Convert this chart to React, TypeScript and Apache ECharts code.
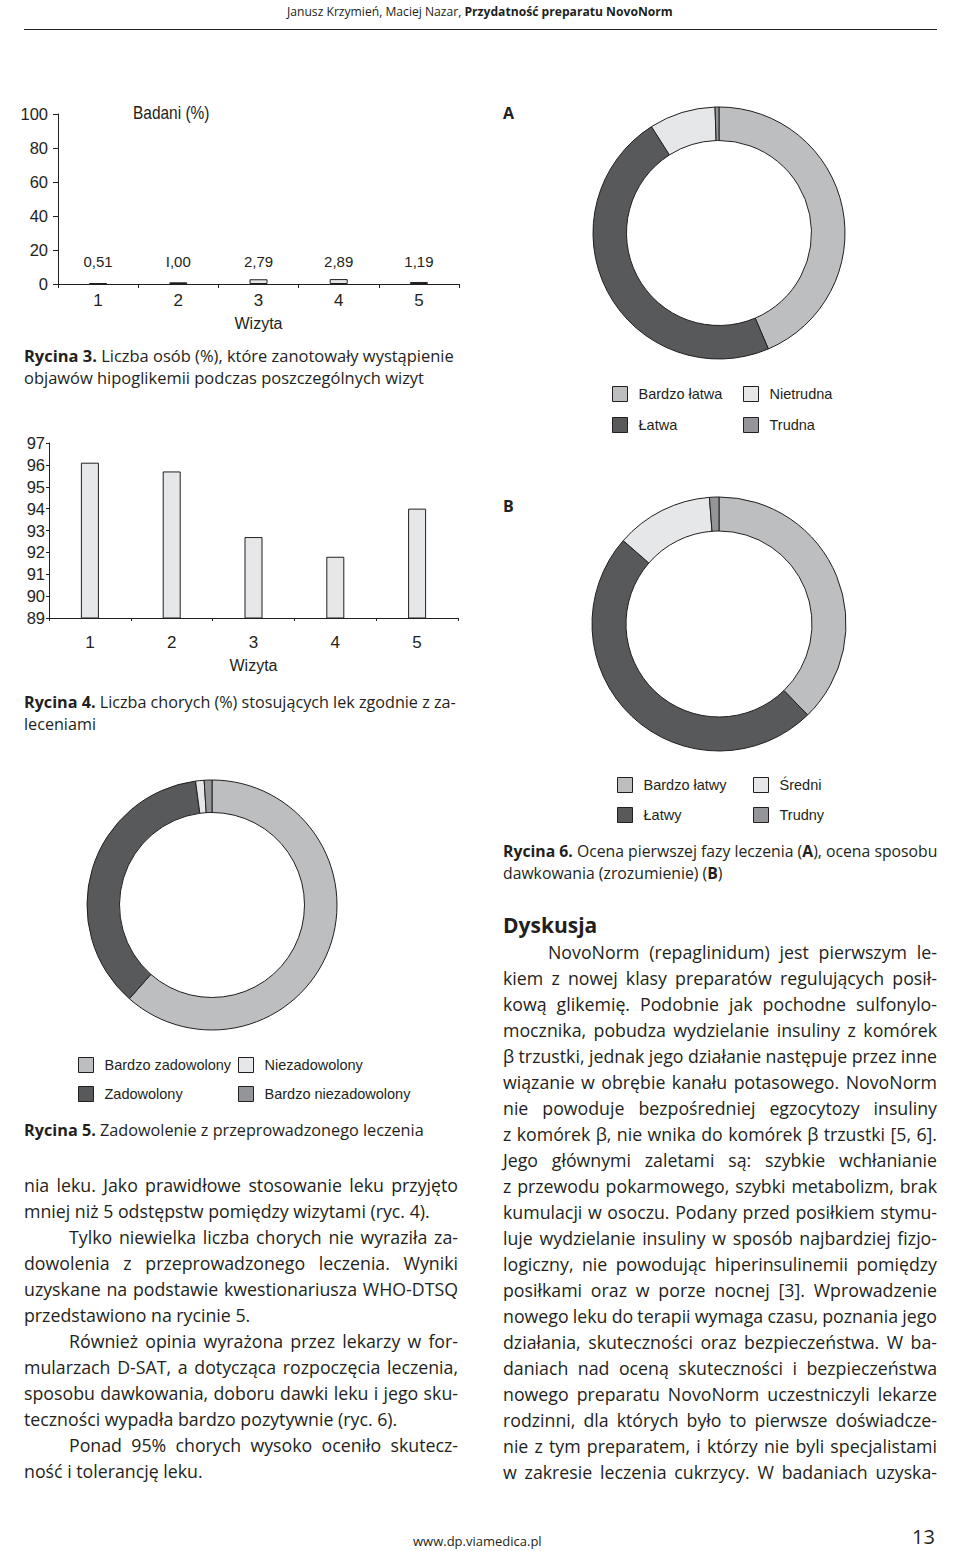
import React, { useEffect, useRef } from 'react';
import * as echarts from 'echarts';

const INK = '#231f20';
const C_LIGHT = '#bcbec0';
const C_DARK = '#58595b';
const C_PALE = '#e6e7e8';
const C_MID = '#939598';
const sliceColors = [C_LIGHT, C_DARK, C_PALE, C_MID];

const BODY = "'Open Sans', 'Noto Sans', sans-serif";
const COND = "'Liberation Sans Narrow', 'Arial Narrow', 'Liberation Sans', Arial, sans-serif";

// Rycina 3
const visits = ['1', '2', '3', '4', '5'];
const hypoValues = [0.51, 1.0, 2.79, 2.89, 1.19];
const hypoLabels = ['0,51', 'I,00', '2,79', '2,89', '1,19'];
// Rycina 4
const complianceValues = [96.1, 95.7, 92.7, 91.8, 94.0];
// Rycina 6 A
const phaseNames = ['Bardzo łatwa', 'Łatwa', 'Nietrudna', 'Trudna'];
const phaseValues = [43.6, 47.4, 8.5, 0.5];
// Rycina 6 B
const dosingNames = ['Bardzo łatwy', 'Łatwy', 'Średni', 'Trudny'];
const dosingValues = [37.7, 48.7, 12.4, 1.2];
// Rycina 5
const satisfactionNames = ['Bardzo zadowolony', 'Zadowolony', 'Niezadowolony', 'Bardzo niezadowolony'];
const satisfactionValues = [61.5, 36.4, 1.1, 1.0];

type L = { t: string; indent?: boolean; last?: boolean };
const leftBody: L[] = [
  { t: 'nia leku. Jako prawidłowe stosowanie leku przyjęto' },
  { t: 'mniej niż 5 odstępstw pomiędzy wizytami (ryc. 4).', last: true },
  { t: 'Tylko niewielka liczba chorych nie wyraziła za-', indent: true },
  { t: 'dowolenia z przeprowadzonego leczenia. Wyniki' },
  { t: 'uzyskane na podstawie kwestionariusza WHO-DTSQ' },
  { t: 'przedstawiono na rycinie 5.', last: true },
  { t: 'Również opinia wyrażona przez lekarzy w for-', indent: true },
  { t: 'mularzach D-SAT, a dotycząca rozpoczęcia leczenia,' },
  { t: 'sposobu dawkowania, doboru dawki leku i jego sku-' },
  { t: 'teczności wypadła bardzo pozytywnie (ryc. 6).', last: true },
  { t: 'Ponad 95% chorych wysoko oceniło skutecz-', indent: true },
  { t: 'ność i tolerancję leku.', last: true },
];
const rightBody: L[] = [
  { t: 'NovoNorm (repaglinidum) jest pierwszym le-', indent: true },
  { t: 'kiem z nowej klasy preparatów regulujących posił-' },
  { t: 'kową glikemię. Podobnie jak pochodne sulfonylo-' },
  { t: 'mocznika, pobudza wydzielanie insuliny z komórek' },
  { t: 'β trzustki, jednak jego działanie następuje przez inne' },
  { t: 'wiązanie w obrębie kanału potasowego. NovoNorm' },
  { t: 'nie powoduje bezpośredniej egzocytozy insuliny' },
  { t: 'z komórek β, nie wnika do komórek β trzustki [5, 6].' },
  { t: 'Jego głównymi zaletami są: szybkie wchłanianie' },
  { t: 'z przewodu pokarmowego, szybki metabolizm, brak' },
  { t: 'kumulacji w osoczu. Podany przed posiłkiem stymu-' },
  { t: 'luje wydzielanie insuliny w sposób najbardziej fizjo-' },
  { t: 'logiczny, nie powodując hiperinsulinemii pomiędzy' },
  { t: 'posiłkami oraz w porze nocnej [3]. Wprowadzenie' },
  { t: 'nowego leku do terapii wymaga czasu, poznania jego' },
  { t: 'działania, skuteczności oraz bezpieczeństwa. W ba-' },
  { t: 'daniach nad oceną skuteczności i bezpieczeństwa' },
  { t: 'nowego preparatu NovoNorm uczestniczyli lekarze' },
  { t: 'rodzinni, dla których było to pierwsze doświadcze-' },
  { t: 'nie z tym preparatem, i którzy nie byli specjalistami' },
  { t: 'w zakresie leczenia cukrzycy. W badaniach uzyska-' },
];

let mctx: CanvasRenderingContext2D | null = null;
function measure(text: string, size: number, weight: string, family: string) {
  if (!mctx) mctx = document.createElement('canvas').getContext('2d');
  if (!mctx) return text.length * size * 0.5;
  mctx.font = `${weight} ${size}px ${family}`;
  return mctx.measureText(text).width;
}

type Seg = [string, boolean];

export default function App() {
  const ref = useRef<HTMLDivElement>(null);
  useEffect(() => {
    const el = ref.current!;
    const chart = echarts.init(el, null, { renderer: 'svg', width: 960, height: 1551 });
    const g: any[] = [];
    const txt = (x: number, y: number, text: string, size: number, weight: string, family: string, scaleX = 1) => {
      g.push({
        type: 'text', x, y, scaleX, silent: true,
        style: { text, fontSize: size, fontWeight: weight, fontFamily: family, fill: INK, align: 'left', verticalAlign: 'middle', textAlign: 'left', textVerticalAlign: 'middle' },
      });
    };
    const segLine = (x: number, y: number, segs: Seg[], size: number) => {
      let cx = x;
      segs.forEach(([s, b]) => {
        const w = b ? 'bold' : 'normal';
        txt(cx, y, s, size, w, BODY);
        cx += measure(s, size, w, BODY);
      });
    };
    const fit = (segs: Seg[], target: number, family: string) => {
      let w = 0;
      segs.forEach(([s, b]) => { w += measure(s, 20, b ? 'bold' : 'normal', family); });
      return (20 * target) / w;
    };
    const caption = (x: number, y: number, lines: Seg[][], target: number) => {
      const size = fit(lines[0], target, BODY);
      lines.forEach((segs, i) => segLine(x, y + i * 22, segs, size));
    };

    const bodySize = fit([['mniej niż 5 odstępstw pomiędzy wizytami (ryc. 4).', false]], 406, BODY);
    const headSegs: Seg[] = [['Janusz Krzymień, Maciej Nazar, ', false], ['Przydatność preparatu NovoNorm', true]];
    const headSize = fit(headSegs, 386, BODY);

    const paragraph = (lines: L[], x: number, y0: number, width: number, step: number) => {
      lines.forEach((ln, i) => {
        const y = y0 + i * step;
        const lx = x + (ln.indent ? 45 : 0);
        const lw = width - (ln.indent ? 45 : 0);
        if (ln.last) { txt(lx, y, ln.t, bodySize, 'normal', BODY); return; }
        const words = ln.t.split(' ');
        const ws = words.map((w) => measure(w, bodySize, 'normal', BODY));
        const sum = ws.reduce((a, b) => a + b, 0);
        const gap = Math.max(2, (lw - sum) / (words.length - 1));
        let cx = lx;
        words.forEach((w, k) => { txt(cx, y, w, bodySize, 'normal', BODY); cx += ws[k] + gap; });
      });
    };

    // header
    segLine(287, 11, headSegs, headSize);
    g.push({ type: 'line', silent: true, shape: { x1: 24, y1: 29.5, x2: 937, y2: 29.5 }, style: { stroke: INK, lineWidth: 1 } });
    // chart title / panel letters
    txt(133, 113, 'Badani (%)', 18, 'normal', COND, 0.86);
    txt(503, 113, 'A', 16, 'bold', BODY);
    txt(503, 506, 'B', 16, 'bold', BODY);
    // captions
    caption(24, 355, [
      [['Rycina 3.', true], [' Liczba osób (%), które zanotowały wystąpienie', false]],
      [['objawów hipoglikemii podczas poszczególnych wizyt', false]],
    ], 430);
    caption(24, 702, [
      [['Rycina 4.', true], [' Liczba chorych (%) stosujących lek zgodnie z za-', false]],
      [['leceniami', false]],
    ], 432);
    caption(503, 851, [
      [['Rycina 6.', true], [' Ocena pierwszej fazy leczenia (', false], ['A', true], ['), ocena sposobu', false]],
      [['dawkowania (zrozumienie) (', false], ['B', true], [')', false]],
    ], 435);
    caption(24, 1130, [
      [['Rycina 5.', true], [' Zadowolenie z przeprowadzonego leczenia', false]],
    ], 400);
    // heading
    txt(503, 925, 'Dyskusja', 21, 'bold', BODY);
    // body
    paragraph(leftBody, 24, 1185, 434, 26);
    paragraph(rightBody, 503, 952, 434, 26);
    // footer
    txt(413, 1541, 'www.dp.viamedica.pl', 13, 'normal', BODY);
    txt(912, 1536, '13', 20, 'normal', BODY);

    const axisBase = (extra: any) => ({
      axisLine: { show: true, lineStyle: { color: INK, width: 1 } },
      splitLine: { show: false },
      ...extra,
    });

    const leg = (names: string[], left: number, top: number, gap: number) => ({
      data: names, orient: 'vertical', left, top, padding: 0,
      itemWidth: 15, itemHeight: 15, itemGap: gap, icon: 'rect', selectedMode: false,
      itemStyle: { borderColor: INK, borderWidth: 1 },
      textStyle: { color: INK, fontSize: 14.5, fontFamily: COND, padding: [0, 0, 0, 6], lineHeight: 15 },
    });

    const pie = (name: string, names: string[], values: number[], center: number[], radius: number[]) => ({
      type: 'pie', name, center, radius, startAngle: 90, clockwise: true,
      avoidLabelOverlap: false, label: { show: false }, labelLine: { show: false },
      emphasis: { disabled: true },
      itemStyle: { borderColor: INK, borderWidth: 1 },
      data: names.map((n, i) => ({ name: n, value: values[i], itemStyle: { color: sliceColors[i] } })),
    });

    const option: any = {
      animation: false,
      backgroundColor: '#ffffff',
      grid: [
        { left: 58, top: 114, width: 401, height: 170 },
        { left: 49, top: 443, width: 409, height: 175 },
      ],
      xAxis: [
        axisBase({
          gridIndex: 0, type: 'category', data: visits, boundaryGap: true,
          axisTick: { show: true, length: 4, lineStyle: { color: INK } },
          axisLabel: { color: INK, fontSize: 17, fontFamily: COND, margin: 8 },
          name: 'Wizyta', nameLocation: 'middle', nameGap: 31,
          nameTextStyle: { color: INK, fontSize: 16, fontFamily: COND },
        }),
        axisBase({
          gridIndex: 1, type: 'category', data: visits, boundaryGap: true,
          axisTick: { show: true, length: 3, lineStyle: { color: INK } },
          axisLabel: { color: INK, fontSize: 17, fontFamily: COND, margin: 16 },
          name: 'Wizyta', nameLocation: 'middle', nameGap: 39,
          nameTextStyle: { color: INK, fontSize: 16, fontFamily: COND },
        }),
      ],
      yAxis: [
        axisBase({
          gridIndex: 0, type: 'value', min: 0, max: 100, interval: 20,
          axisTick: { show: true, length: 5, lineStyle: { color: INK } },
          axisLabel: { color: INK, fontSize: 16.5, fontFamily: COND, margin: 10 },
        }),
        axisBase({
          gridIndex: 1, type: 'value', min: 89, max: 97, interval: 1,
          axisTick: { show: true, length: 3, lineStyle: { color: INK } },
          axisLabel: { color: INK, fontSize: 16.5, fontFamily: COND, margin: 4 },
        }),
      ],
      legend: [
        leg([phaseNames[0], phaseNames[1]], 612, 386, 15),
        leg([phaseNames[2], phaseNames[3]], 743, 386, 15),
        leg([dosingNames[0], dosingNames[1]], 617, 777, 14),
        leg([dosingNames[2], dosingNames[3]], 753, 777, 14),
        leg([satisfactionNames[0], satisfactionNames[1]], 78, 1057, 13),
        leg([satisfactionNames[2], satisfactionNames[3]], 238, 1057, 13),
      ],
      series: [
        {
          type: 'bar', xAxisIndex: 0, yAxisIndex: 0, data: hypoValues, barWidth: 18,
          itemStyle: { color: C_PALE, borderColor: INK, borderWidth: 1 },
          label: {
            show: true, position: 'insideBottom', distance: 15, color: INK, fontSize: 15, fontFamily: COND,
            formatter: (p: any) => hypoLabels[p.dataIndex],
          },
          emphasis: { disabled: true },
        },
        {
          type: 'bar', xAxisIndex: 1, yAxisIndex: 1, data: complianceValues, barWidth: 18,
          itemStyle: { color: C_PALE, borderColor: INK, borderWidth: 1 },
          emphasis: { disabled: true },
        },
        pie('A', phaseNames, phaseValues, [719, 233], [92.5, 126]),
        pie('B', dosingNames, dosingValues, [719, 624], [93, 127]),
        pie('R5', satisfactionNames, satisfactionValues, [212, 905], [92.5, 125]),
      ],
      graphic: { elements: g },
    };
    chart.setOption(option);
    return () => chart.dispose();
  }, []);
  return <div ref={ref} style={{ position: 'absolute', left: 0, top: 0, width: 960, height: 1551, background: '#fff' }} />;
}
